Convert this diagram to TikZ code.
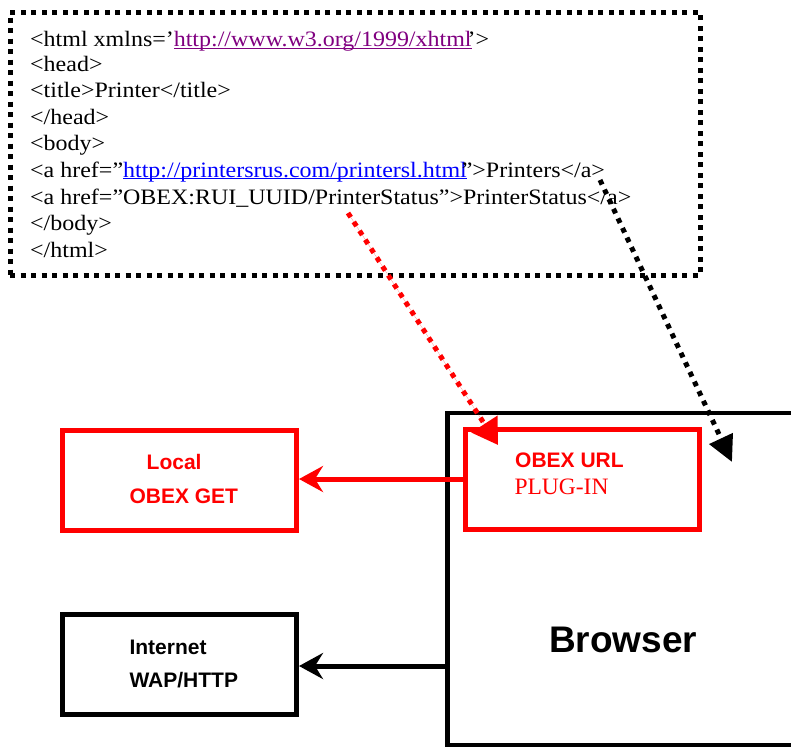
\documentclass[tikz,border=0pt]{standalone}
\usepackage{fontspec}
\setmainfont{Liberation Serif}
\newfontfamily\codefont[FakeStretch=1.09]{Liberation Serif}
\newfontfamily\labfont{Liberation Sans}
\usetikzlibrary{arrows.meta}
\definecolor{linkpurple}{HTML}{800080}
\definecolor{linkblue}{HTML}{0000FF}
\definecolor{pured}{HTML}{FF0000}
\newcommand\ulink[2]{\textcolor{#1}{\setbox0\hbox{#2}\rlap{\rule[-2.3pt]{\wd0}{1.1pt}}\box0}}
\tikzset{
  codeline/.style={anchor=base west, inner sep=0pt, font=\codefont\fontsize{22}{26}\selectfont},
  lab/.style={anchor=base west, inner sep=0pt, font=\labfont\bfseries\fontsize{21}{25}\selectfont},
  redbox/.style={draw=pured, line width=5pt, minimum width=234pt, minimum height=100pt, inner sep=0pt},
  blackbox/.style={draw=black, line width=5pt, minimum width=234pt, minimum height=100pt, inner sep=0pt},
  dotbox/.style={draw=black, line width=5pt, dash pattern=on 5pt off 5.5pt, minimum width=690pt, minimum height=263pt, inner sep=0pt},
  dotarrow/.style={line width=5pt, dash pattern=on 5pt off 5.6pt},
  solidarrow/.style={line width=5pt, -{Stealth[length=24pt,width=26pt,inset=8pt]}}
}
\begin{document}
\begin{tikzpicture}[x=1pt,y=-1pt]
\useasboundingbox (0,0) rectangle (791,747);
% HTML code box
\node[dotbox] (htmlbox) at (355,143.5) {};
\node[codeline] (l1) at (30,46.5) {<html xmlns=’\ulink{linkpurple}{http://www.w3.org/1999/xhtml}\kern-4pt’>};
\node[codeline] (l2) at (30,71) {<head>};
\node[codeline] (l3) at (30,97.5) {<title>Printer</title>};
\node[codeline] (l4) at (30,124) {</head>};
\node[codeline] (l5) at (30,150.5) {<body>};
\node[codeline] (l6) at (30,177) {<a href=”\ulink{linkblue}{http://printersrus.com/printersl.html}\kern-5pt”>Printers</a>};
\node[codeline] (l7) at (30,204) {<a href=”OBEX:RUI\_UUID/PrinterStatus”>PrinterStatus</a>};
\node[codeline] (l8) at (30,230) {</body>};
\node[codeline] (l9) at (30,257) {</html>};
% Browser box (extends beyond the right edge)
\coordinate (btr) at (800,413);
\coordinate (btl) at (447.5,413);
\coordinate (bbl) at (447.5,745);
\coordinate (bbr) at (800,745);
\draw[line width=4.5pt] (btr) -- (btl) -- (bbl) -- (bbr);
\node[anchor=base west, inner sep=0pt, font=\labfont\bfseries\fontsize{37}{40}\selectfont] (browser) at (549,652) {Browser};
% boxes
\node[redbox] (obexurl) at (582.25,479.5) {};
\node[redbox] (local) at (179.75,480.25) {};
\node[blackbox] (internet) at (179.35,664.25) {};
% labels
\node[lab, text=pured] (tlocal) at (146.5,469.5) {Local};
\node[lab, text=pured] (tget) at (129.3,503.3) {OBEX GET};
\node[lab, text=pured] (turl) at (515,467.3) {OBEX URL};
\node[anchor=base west, inner sep=0pt, text=pured, font=\fontsize{23.5}{26}\selectfont] (tplug) at (514.3,494) {PLUG-IN};
\node[lab] (tinet) at (129.3,654) {Internet};
\node[lab] (twap) at (129.3,687.3) {WAP/HTTP};
% solid arrows
\coordinate (redstart) at (465,479);
\coordinate (redend) at (299,479);
\draw[solidarrow, draw=pured] (redstart) -- (redend);
\coordinate (blkstart) at (447.5,666);
\coordinate (blkend) at (299,666);
\draw[solidarrow] (blkstart) -- (blkend);
% dotted arrows
\coordinate (rs) at (348,213);
\coordinate (rt) at (498,445);
\draw[dotarrow, draw=pured, fill=pured, -{Triangle[length=25pt,width=30pt]}] (rs) -- (rt);
\coordinate (ks) at (600,180);
\coordinate (kt) at (732,462);
\draw[dotarrow, -{Triangle[length=26pt,width=25pt]}] (ks) -- (kt);
\end{tikzpicture}
\end{document}
